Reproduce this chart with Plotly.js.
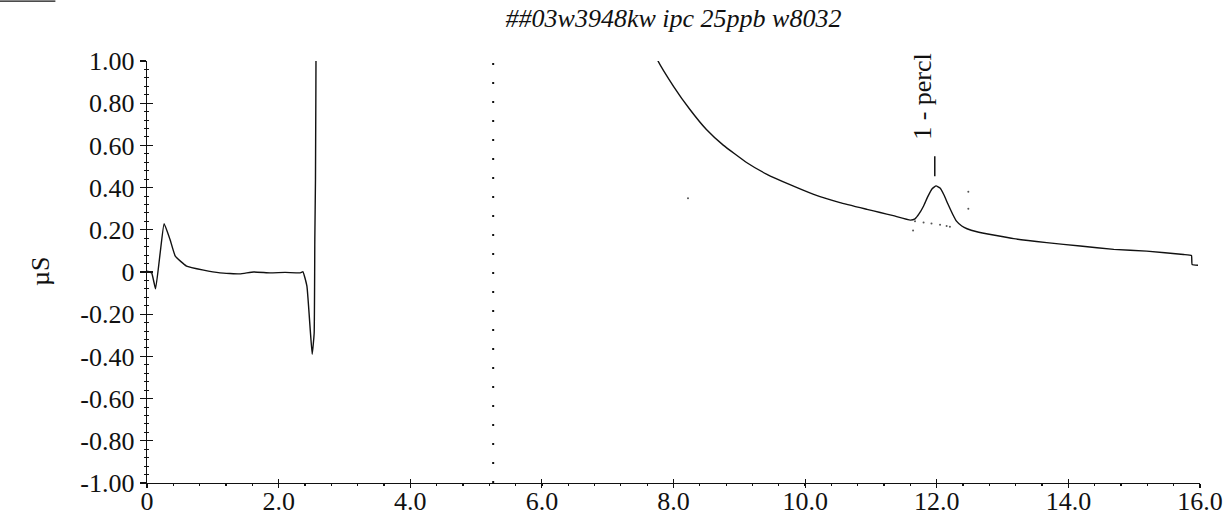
<!DOCTYPE html>
<html>
<head>
<meta charset="utf-8">
<script src="https://cdn.plot.ly/plotly-3.0.1.min.js"></script>
<style>html,body{margin:0;padding:0;background:#fff;}#chart{width:1228px;height:514px;}</style>
</head>
<body>
<div id="chart"></div>
<script>
// Retention time (min) and conductivity (µS)
const timeMin = [0.00, 0.07, 0.13, 0.20, 0.26, 0.35, 0.43, 0.60, 0.86, 1.11, 1.41, 1.62, 1.87, 2.10, 2.33, 2.37, 2.43, 2.48, 2.51, 2.54, 2.55, 2.56, 2.57, 2.58,
  4.00, 6.00, 7.50, 7.75, 8.00, 8.25, 8.50, 8.76, 9.11, 9.42, 9.77, 10.13, 10.53, 10.94, 11.14, 11.34, 11.60, 11.67, 11.73, 11.80, 11.86, 11.93, 11.99, 12.05, 12.11, 12.17, 12.24, 12.30, 12.38, 12.46, 12.61,
  13.17, 13.67, 14.18, 14.69, 15.19, 15.75, 15.87, 15.88, 15.97];
const signalUS = [0.004, -0.004, -0.080, 0.090, 0.229, 0.154, 0.075, 0.028, 0.009, -0.004, -0.009, 0.000, -0.004, -0.002, -0.004, 0.001, -0.067, -0.273, -0.390, -0.290, 0.154, 0.440, 1.200, 3.000,
  3.000, 3.000, 1.300, 1.010, 0.880, 0.770, 0.675, 0.600, 0.519, 0.463, 0.414, 0.368, 0.329, 0.297, 0.282, 0.267, 0.246, 0.252, 0.275, 0.313, 0.355, 0.395, 0.408, 0.398, 0.365, 0.322, 0.275, 0.241, 0.218, 0.205, 0.191,
  0.158, 0.139, 0.123, 0.107, 0.099, 0.083, 0.078, 0.036, 0.032];

// Integration baseline / marker dots
const markTime = [11.64, 11.67, 11.80, 11.92, 12.05, 12.15, 12.20, 12.48, 12.48, 8.22];
const markSignal = [0.197, 0.240, 0.235, 0.230, 0.224, 0.218, 0.215, 0.380, 0.300, 0.350];

// Peak label
const peakName = "1 - percl";
const peakTime = 11.99;
const peakSignal = 0.408;

// Injection marker time
const injectTime = 5.26;

// Axis ticks
const xTickVals = [0, 2, 4, 6, 8, 10, 12, 14, 16];
const xTickText = ["0", "2.0", "4.0", "6.0", "8.0", "10.0", "12.0", "14.0", "16.0"];
const yTickVals = [1, 0.8, 0.6, 0.4, 0.2, 0, -0.2, -0.4, -0.6, -0.8, -1];
const yTickText = ["1.00", "0.80", "0.60", "0.40", "0.20", "0", "-0.20", "-0.40", "-0.60", "-0.80", "-1.00"];

const serif = "Liberation Serif, Times New Roman, serif";
const ink = "#111";

const traces = [
  {x: timeMin, y: signalUS, type: "scatter", mode: "lines",
   line: {color: ink, width: 1.4, shape: "spline", smoothing: 0.35}, hoverinfo: "skip"},
  {x: markTime, y: markSignal, type: "scatter", mode: "markers",
   marker: {color: "#555", size: 2}, hoverinfo: "skip"},
  // anchor trace for the overlay axes that draw the inner half of the crossing ticks
  {x: [timeMin[0]], y: [signalUS[0]], xaxis: "x2", yaxis: "y2", type: "scatter", mode: "markers",
   marker: {opacity: 0}, hoverinfo: "skip"}
];

const layout = {
  width: 1228, height: 514,
  margin: {l: 147, r: 28, t: 61, b: 31},
  paper_bgcolor: "#fff", plot_bgcolor: "#fff",
  showlegend: false,
  font: {family: serif, color: ink, size: 26},
  title: {text: "<i>##03w3948kw ipc 25ppb w8032</i>", x: 0.5, xref: "paper", xanchor: "center",
          y: 0.965, yref: "container", yanchor: "middle", font: {family: serif, size: 26, color: ink}},
  xaxis: {range: [0, 16], showgrid: false, zeroline: false, showline: true, linecolor: ink, linewidth: 1.3,
          tickmode: "array", tickvals: xTickVals, ticktext: xTickText,
          ticks: "outside", ticklen: 4, tickwidth: 1.2, tickcolor: ink, ticklabelstandoff: -10,
          minor: {dtick: 0.4, ticks: "outside", ticklen: 2, tickwidth: 1.3, tickcolor: ink},
          tickfont: {family: serif, size: 26, color: ink}, fixedrange: true},
  yaxis: {range: [-1, 1], showgrid: false, zeroline: false, showline: true, linecolor: ink, linewidth: 1.3,
          tickmode: "array", tickvals: yTickVals, ticktext: yTickText,
          ticks: "outside", ticklen: 6, tickwidth: 1.2, tickcolor: ink,
          minor: {dtick: 0.04, ticks: "outside", ticklen: 2, tickwidth: 1, tickcolor: ink},
          tickfont: {family: serif, size: 26, color: ink}, fixedrange: true},
  xaxis2: {overlaying: "x", anchor: "y", range: [0, 16], showgrid: false, zeroline: false, showline: false,
           tickmode: "array", tickvals: xTickVals, showticklabels: false,
           ticks: "inside", ticklen: 4, tickwidth: 1.2, tickcolor: ink, side: "bottom", fixedrange: true},
  yaxis2: {overlaying: "y", anchor: "x", range: [-1, 1], showgrid: false, zeroline: false, showline: false,
           tickmode: "array", tickvals: yTickVals, showticklabels: false,
           ticks: "inside", ticklen: 6, tickwidth: 1.2, tickcolor: ink, side: "left",
           minor: {dtick: 0.04, ticks: "inside", ticklen: 2, tickwidth: 1, tickcolor: ink}, fixedrange: true},
  shapes: [
    {type: "line", xref: "x", yref: "paper", x0: injectTime, x1: injectTime, y0: 0, y1: 1,
     line: {color: ink, width: 2, dash: "2px,17px"}},
    {type: "line", xref: "x", yref: "y", x0: peakTime - 0.02, x1: peakTime - 0.02, y0: peakSignal + 0.046, y1: peakSignal + 0.141,
     line: {color: ink, width: 1.5}},
    {type: "line", xref: "paper", yref: "paper", x0: -0.1396, x1: -0.087, y0: 1.142, y1: 1.142,
     line: {color: ink, width: 1.2}}
  ],
  annotations: [
    {x: peakTime, y: peakSignal + 0.207, xref: "x", yref: "y", text: peakName, showarrow: false,
     textangle: -90, xanchor: "center", yanchor: "bottom", xshift: -13,
     font: {family: serif, size: 26, color: ink}},
    {x: -0.1016, y: 0.5, xref: "paper", yref: "paper", text: "µS", showarrow: false,
     textangle: -90, xanchor: "center", yanchor: "middle",
     font: {family: serif, size: 26, color: ink}}
  ]
};

Plotly.newPlot("chart", traces, layout, {displayModeBar: false, staticPlot: true});
</script>
</body>
</html>
